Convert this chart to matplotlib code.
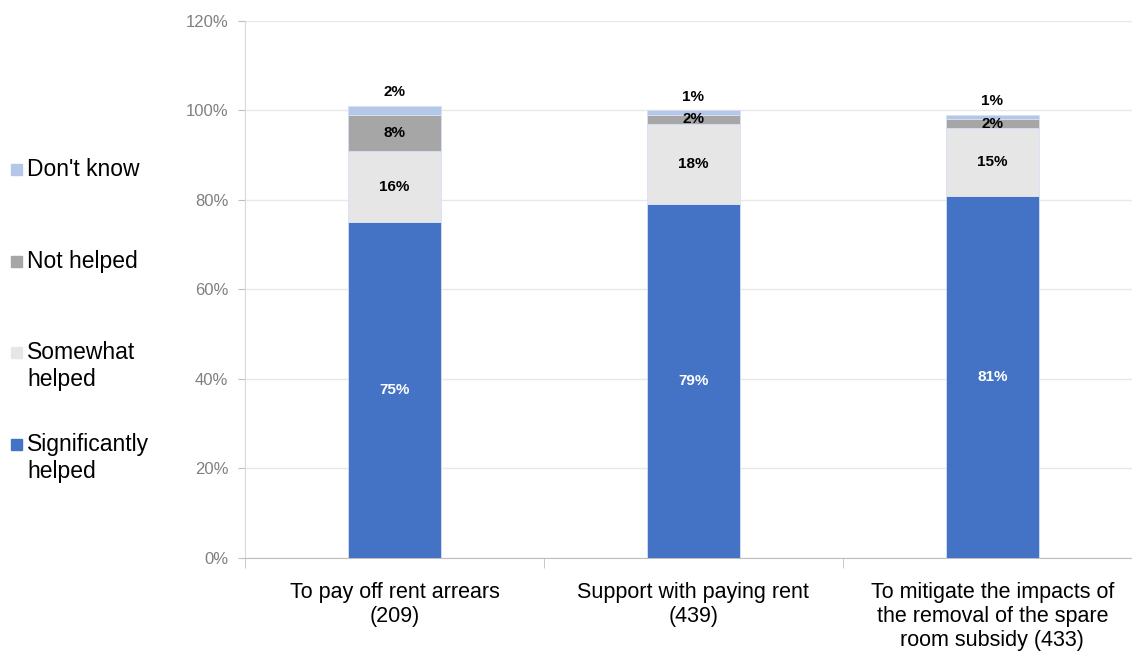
import numpy as np
import matplotlib.pyplot as plt
from matplotlib.patches import Rectangle

plt.rcParams['font.family'] = ['Liberation Sans', 'DejaVu Sans']

categories = ['To pay off rent arrears\n(209)',
              'Support with paying rent\n(439)',
              'To mitigate the impacts of\nthe removal of the spare\nroom subsidy (433)']
series = ['Significantly\nhelped', 'Somewhat\nhelped', 'Not helped', "Don't know"]
significantly = [75, 79, 81]
somewhat = [16, 18, 15]
not_helped = [8, 2, 2]
dont_know = [2, 1, 1]
colors = ['#4472C4', '#E6E6E6', '#A6A6A6', '#B4C7E7']

fig = plt.figure(figsize=(11.32, 6.52), dpi=100)
ax = fig.add_axes([0.2164, 0.1442, 0.7836, 0.8236])

x = np.arange(len(categories))
width = 0.31
bottom = np.zeros(len(categories))
for i, vals in enumerate([significantly, somewhat, not_helped, dont_know]):
    vals = np.array(vals, dtype=float)
    ax.bar(x, vals, width, bottom=bottom, color=colors[i], edgecolor='#D6E0F5',
           linewidth=0.6, zorder=3)
    for xi, b, v in zip(x, bottom, vals):
        if i == 3:
            y = b + v + 1.5
            va = 'bottom'
        else:
            y = b + v / 2
            va = 'center'
        ax.text(xi, y, f'{v:.0f}%', ha='center', va=va, fontsize=11,
                fontweight='bold', color='white' if i == 0 else 'black', zorder=4)
    bottom += vals

ax.set_xlim(-0.493, 2.467)
ax.set_ylim(0, 120)
ax.set_yticks(range(0, 121, 20))
ax.set_yticklabels([f'{v}%' for v in range(0, 121, 20)], color='#808080', fontsize=12)
ax.yaxis.grid(True, color='#E8E8E8', linewidth=1, zorder=0)
ax.tick_params(axis='y', length=5, color='#BFBFBF', pad=7)

ax.set_xticks(x)
ax.set_xticklabels(categories, fontsize=15.5, linespacing=1.2)
ax.tick_params(axis='x', which='major', length=0, pad=17)
ax.set_xticks([-0.5, 0.5, 1.5], minor=True)
ax.tick_params(axis='x', which='minor', length=7, color='#BFBFBF')

for s in ['top', 'right']:
    ax.spines[s].set_visible(False)
ax.spines['left'].set_color('#D9D9D9')
ax.spines['bottom'].set_color('#BFBFBF')

# legend entries drawn top to bottom, evenly spaced by their top edge
legend_tops = [158, 250, 341, 433]
for top, name, col in zip(legend_tops, series[::-1], colors[::-1]):
    fy = 1 - top / 652
    fig.add_artist(Rectangle((11 / 1132, fy - 17 / 652), 11 / 1132, 11 / 652,
                             transform=fig.transFigure, color=col))
    fig.text(27 / 1132, fy, name, ha='left', va='top', fontsize=16.5,
             linespacing=1.2)

fig.savefig('out.png', dpi=100)
